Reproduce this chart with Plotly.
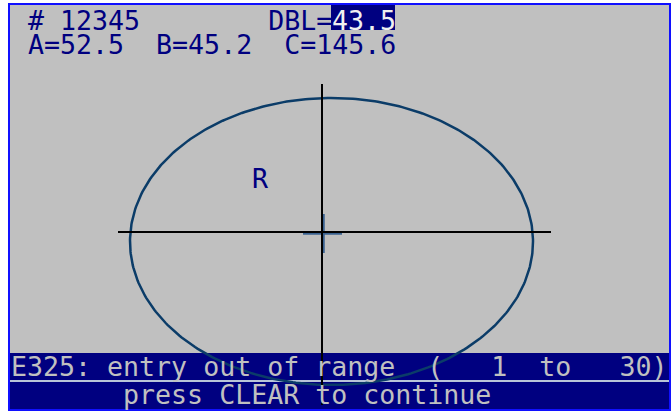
import numpy as np
import plotly.graph_objects as go

job_number = "12345"
param_names = ["A", "B", "C"]
param_values = [52.5, 45.2, 145.6]
dbl_value = 43.5
zone_label = "R"
error_code = "E325"
error_text = "entry out of range"
range_limits = [1, 30]
prompt_text = "press CLEAR to continue"

# lens outline (ellipse) in screen units
ellipse_center = [331.5, 241.5]
ellipse_radii = [201.5, 143.5]
# crosshair and small centre mark
cross_x = [[322, 322], [118, 551]]
cross_y = [[84, 405], [232, 232]]
mark_x = [[303, 342], [323.5, 323.5]]
mark_y = [[233.5, 233.5], [214, 253]]

# ---- style ----
W, H = 671, 413
CW = 16.0
FS = 26.6
FONT = "DejaVu Sans Mono"
NAVY = "#000080"
SILVER = "#c0c0c0"
BORDER = "#1010ff"
NB = "\u00a0"


def sp(s):
    return s.replace(" ", NB)


fig = go.Figure()

t = np.linspace(0, 2 * np.pi, 400)
fig.add_trace(go.Scatter(
    x=ellipse_center[0] + ellipse_radii[0] * np.cos(t),
    y=ellipse_center[1] + ellipse_radii[1] * np.sin(t),
    mode="lines", line=dict(color="#0b3c68", width=2.5), hoverinfo="skip"))

mx, my = [], []
for xs, ys in zip(mark_x, mark_y):
    mx += xs + [None]
    my += ys + [None]
fig.add_trace(go.Scatter(x=mx, y=my, mode="lines",
                         line=dict(color="#3a6290", width=2.5), hoverinfo="skip"))

cx, cy = [], []
for xs, ys in zip(cross_x, cross_y):
    cx += xs + [None]
    cy += ys + [None]
fig.add_trace(go.Scatter(x=cx, y=cy, mode="lines",
                         line=dict(color="#000000", width=2), hoverinfo="skip"))

shapes = [
    dict(type="rect", x0=9, x1=670, y0=4, y1=410, fillcolor=SILVER,
         line=dict(color=BORDER, width=2), layer="below"),
    dict(type="rect", x0=10, x1=669, y0=353, y1=409, fillcolor=NAVY,
         line=dict(width=0), layer="below"),
    dict(type="line", x0=10, x1=669, y0=381, y1=381,
         line=dict(color="#b8c4d8", width=2), layer="below"),
]

top_x = 27
dbl_col = 19
shapes.append(dict(type="rect", x0=top_x + dbl_col * CW, x1=top_x + (dbl_col + 4) * CW,
                   y0=5, y1=30, fillcolor=NAVY, line=dict(width=0), layer="below"))

row1 = "# " + job_number + " " * 8 + "DBL="
row2 = "  ".join(f"{n}={v}" for n, v in zip(param_names, param_values))
bar1 = f"{error_code}: {error_text}  (   {range_limits[0]}  to   {range_limits[1]})"
bar2 = " " * 7 + prompt_text

ann = []


def put(text, x, y, color):
    ann.append(dict(text=sp(text), x=x, y=y, xref="x", yref="y", showarrow=False,
                    xanchor="left", yanchor="middle", borderpad=0,
                    font=dict(family=FONT, size=FS, color=color)))


put(row1, top_x, 20, NAVY)
put(f"{dbl_value}", top_x + dbl_col * CW, 20, "#f0f0f0")
put(row2, top_x, 44, NAVY)
put(zone_label, 251, 178, NAVY)
put(bar1, 10, 366, SILVER)
put(bar2, 10, 394, SILVER)

fig.update_layout(
    width=W, height=H, margin=dict(l=0, r=0, t=0, b=0),
    paper_bgcolor="white", plot_bgcolor="white", showlegend=False,
    xaxis=dict(range=[0, W], visible=False, fixedrange=True),
    yaxis=dict(range=[H, 0], visible=False, fixedrange=True),
    shapes=shapes, annotations=ann,
)

fig.write_html("out.html", config={"displayModeBar": False},
               post_script="document.body.style.margin='0';document.body.style.overflow='hidden';")
